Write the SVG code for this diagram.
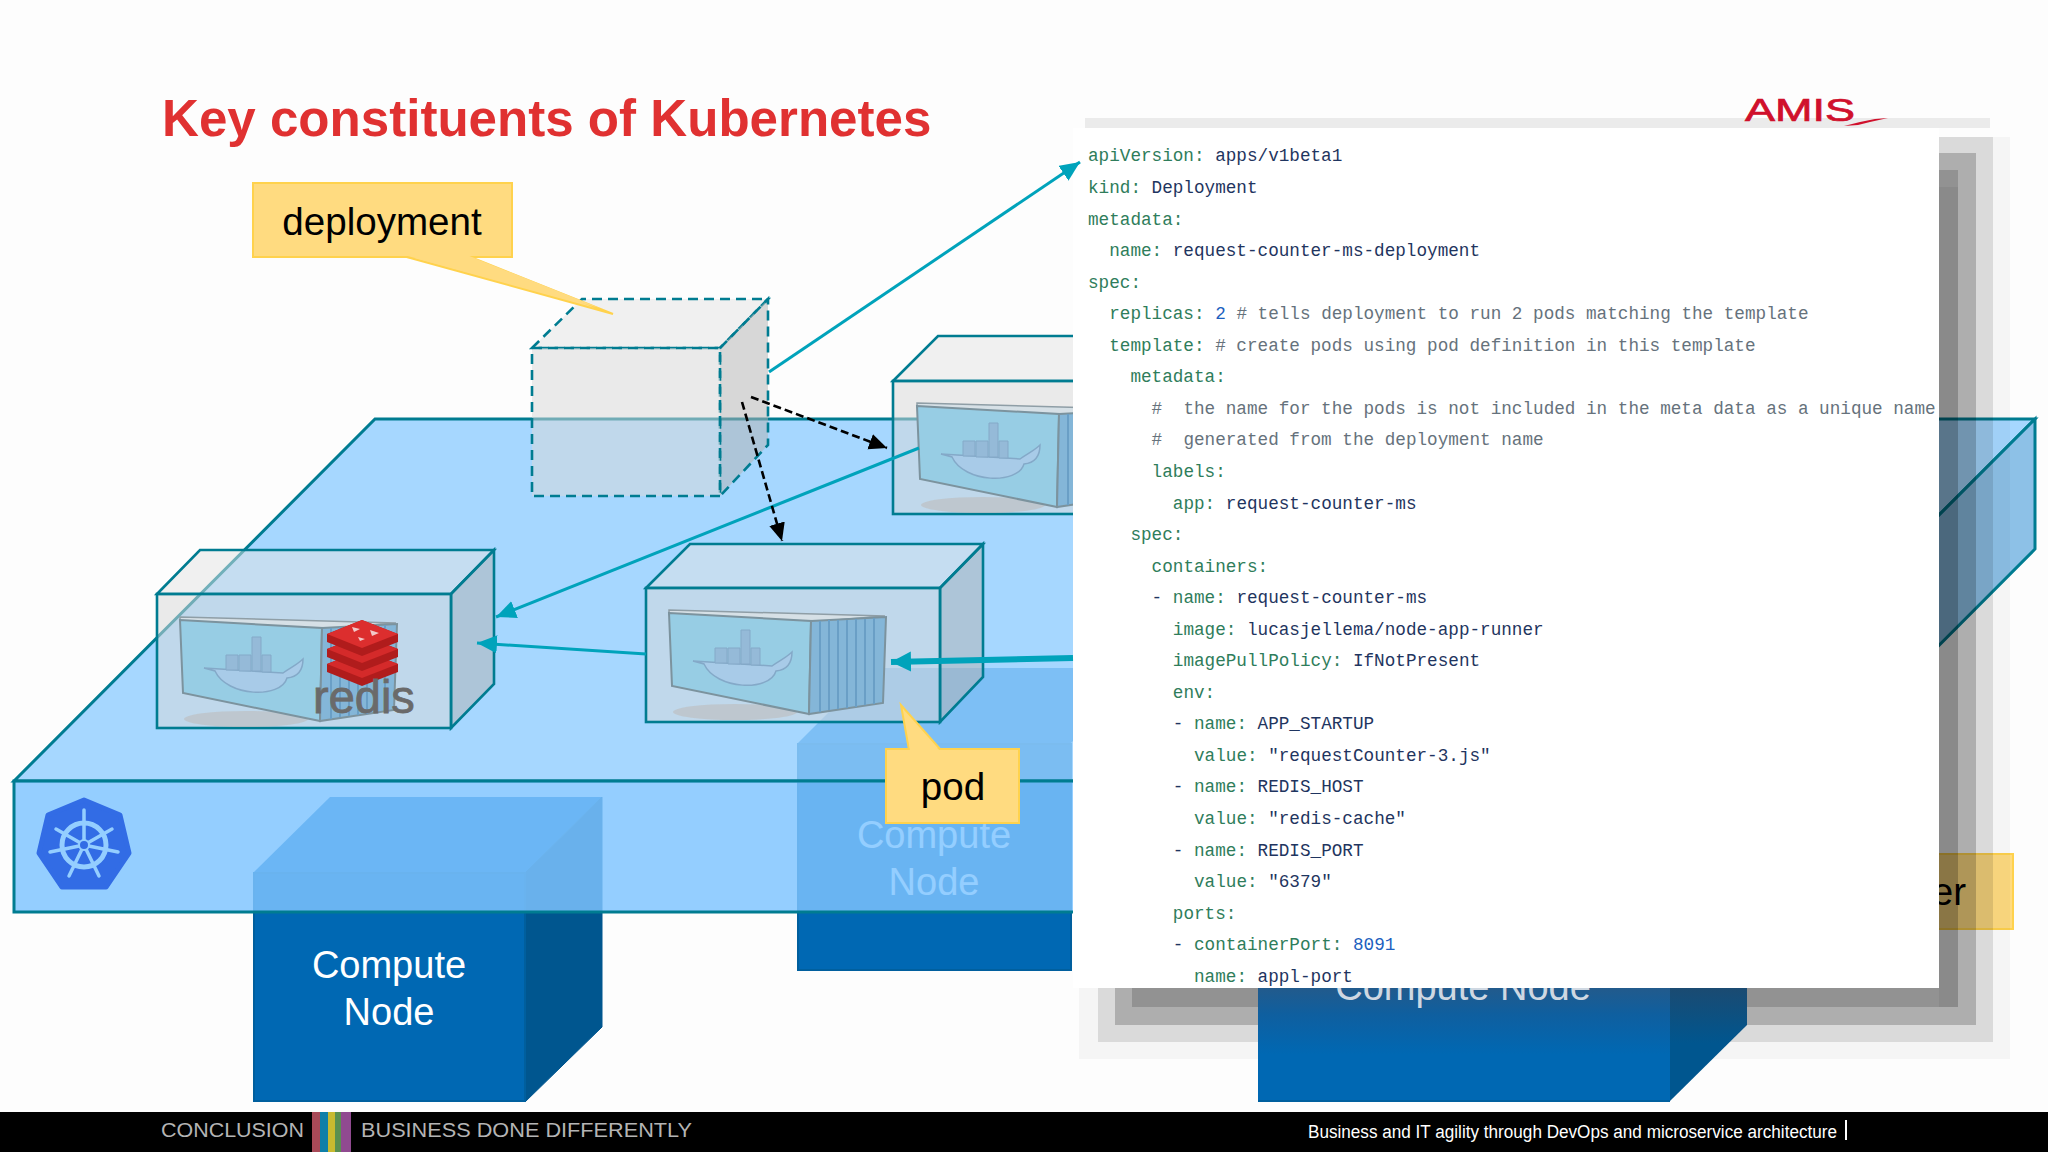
<svg xmlns="http://www.w3.org/2000/svg" xmlns:xlink="http://www.w3.org/1999/xlink" width="2048" height="1152" viewBox="0 0 2048 1152">
<style>
text{font-family:"Liberation Sans",Arial,sans-serif}
.call{fill:#ffdb80;stroke:#ffd24d;stroke-width:2}
.lab{font-size:38.6px;fill:#000;text-anchor:middle}
.cn{font-size:38px;fill:#fff;text-anchor:middle}
.cf{fill:#0068b3;stroke:#005f9e;stroke-width:2}
.cs{fill:#00568f;stroke:#00568f}
.pf{fill:#d9d9d9;fill-opacity:.52;stroke:#007c91;stroke-width:2.6}
.ps{fill:#b4b4b4;fill-opacity:.52;stroke:#007c91;stroke-width:2.6}
.pt{fill:#e4e4e4;fill-opacity:.5;stroke:#007c91;stroke-width:2.6}
.dash{stroke-dasharray:10 6}
.plat{stroke:#007c91;stroke-width:3}
.teal{stroke:#00a3bb;stroke-width:3;fill:none}
.blk{stroke:#000;stroke-width:2.6;stroke-dasharray:8 4;fill:none}
.y{font-family:"Liberation Mono","DejaVu Sans Mono",monospace;font-size:17.67px;white-space:pre;fill:#1f3560}
.k{fill:#2f7d5b}.c{fill:#66727c}.n{fill:#1d5fc0}
.sh{fill:#000}
.foot{fill:#b4b4b4;font-family:"Liberation Sans",Arial,sans-serif;font-size:20px}
</style>
<defs>
<marker id="ta" markerUnits="userSpaceOnUse" markerWidth="22" markerHeight="20" refX="20" refY="9" orient="auto"><path d="M0,0 L20,9 L0,18 Z" fill="#00a3bb"/></marker>
<marker id="tb" markerUnits="userSpaceOnUse" markerWidth="22" markerHeight="22" refX="20" refY="10" orient="auto"><path d="M0,0 L20,10 L0,20 Z" fill="#00a3bb"/></marker>
<marker id="ka" markerUnits="userSpaceOnUse" markerWidth="20" markerHeight="18" refX="18" refY="8" orient="auto"><path d="M0,0 L18,8 L0,16 Z" fill="#000"/></marker>
<clipPath id="pc"><rect x="1073" y="128" width="866" height="860"/></clipPath>
<linearGradient id="nf" x1="0" y1="0" x2="0" y2="1"><stop offset="0" stop-color="#245a8a"/><stop offset=".25" stop-color="#0f5f9f"/><stop offset=".6" stop-color="#0068b3"/></linearGradient>
<linearGradient id="ns" x1="0" y1="0" x2="0" y2="1"><stop offset="0" stop-color="#1c4a70"/><stop offset=".5" stop-color="#00568f"/></linearGradient>
<g id="box">
<ellipse cx="735" cy="712" rx="62" ry="8" fill="#bdbdbd" opacity=".6"/>
<polygon points="669,610 885,616 811,622 669,614" fill="#d6e0e6" stroke="#8f9ea6" stroke-width="1.5"/>
<polygon points="669,613 811,621 809,714 672,686" fill="#97cde4" stroke="#7c939e" stroke-width="2"/>
<polygon points="811,621 886,617 883,703 809,714" fill="#84b6d8" stroke="#7c939e" stroke-width="2"/>
<path d="M820,621V712M829,620V710M838,620V709M847,620V708M856,619V707M865,619V705M874,618V704" stroke="#6a9fc6" stroke-width="2" fill="none"/>
<path d="M693,661 L772,666 C780,660 786,658 792,652 C792,664 786,670 776,671 C770,692 716,690 704,664 Z" fill="#a8cbe8" stroke="#84a9c8" stroke-width="1.5"/>
<path d="M715,648h12v15h-12zM728,648h12v16h-12zM741,630h9v34h-9zM751,648h9v17h-9z" fill="#95bad8" stroke="#84a9c8"/>
</g>
</defs>
<rect width="2048" height="1152" fill="#fdfdfd"/>

<g id="title"><text x="162" y="136" font-size="51.1" font-weight="700" fill="#e03131">Key constituents of Kubernetes</text></g>

<g id="node1">
<polygon points="253,873 330,797 602,797 525,873" fill="#0e74c2"/>
<polygon points="525,873 602,797 602,1027 525,1102" class="cs"/>
<rect x="254" y="873" width="271" height="228" class="cf"/>
<text class="cn" x="389" y="978">Compute</text><text class="cn" x="389" y="1025">Node</text>
</g>
<g id="node2">
<polygon points="797,744 873,668 1145,668 1070,744" fill="#0e74c2"/>
<rect x="798" y="744" width="273" height="226" class="cf"/>
<text class="cn" x="934" y="848">Compute</text><text class="cn" x="934" y="895">Node</text>
</g>
<g id="callout-right">
<rect x="1830" y="854" width="183" height="75" class="call"/>
<text class="lab" x="1966" y="905" style="text-anchor:end">er</text>
</g>

<g id="platform">
<polygon class="plat" points="14,781 375,419 2035,419 1673,781" fill="#94cfff" fill-opacity=".83"/>
<polygon class="plat" points="1673,781 2035,419 2035,549 1673,912" fill="#76b4e2" fill-opacity=".83"/>
<rect class="plat" x="14" y="781" width="1659" height="131" fill="#7ec4ff" fill-opacity=".83"/>
<g id="k8s-logo">
<polygon points="84,800 120,815 129,853 106,887 62,887 39,853 48,815" fill="#326ce5" stroke="#326ce5" stroke-width="5" stroke-linejoin="round"/>
<g stroke="#94ceff" fill="none">
<circle cx="84" cy="845" r="22" stroke-width="5"/>
<path stroke-width="3.5" stroke-linecap="round" d="M84,845V810M84,845L112,829M84,845L118,852M84,845L99,876M84,845L69,876M84,845L50,852M84,845L56,829"/>
</g>
<circle cx="84" cy="845" r="5" fill="#326ce5" stroke="#94ceff" stroke-width="2"/>
</g>
</g>

<g id="pod-top">
<polygon class="pt" points="893,381 938,336 1100,336 1100,381"/>
<rect class="pf" x="893" y="381" width="220" height="133"/>
<use xlink:href="#box" href="#box" transform="translate(248,-207)"/>
</g>
<g id="deployment-cube">
<polygon class="pt dash" points="532,348 582,299 768,299 720,348"/>
<polygon class="ps dash" points="720,348 768,299 768,445 720,496"/>
<rect class="pf dash" x="532" y="348" width="188" height="148"/>
</g>
<g id="pod-redis">
<polygon class="pt" points="157,594 200,550 494,550 451,594"/>
<polygon class="ps" points="451,594 494,550 494,684 451,728"/>
<rect class="pf" x="157" y="594" width="294" height="134"/>
<use xlink:href="#box" href="#box" transform="translate(-489,7)"/>
<g id="redis-logo">
<polygon points="327,664 362,650 398,664 398,672 362,686 327,672" fill="#b01c1c"/><polygon points="327,664 362,650 398,664 362,678" fill="#d42a2a"/>
<polygon points="327,649 362,635 398,649 398,657 362,671 327,657" fill="#b01c1c"/><polygon points="327,649 362,635 398,649 362,663" fill="#d42a2a"/>
<polygon points="327,634 362,620 398,634 398,642 362,656 327,642" fill="#b01c1c"/><polygon points="327,634 362,620 398,634 362,648" fill="#dc2e2e"/>
<path d="M352,627l8,2-6,3zM370,630l9,3-7,3zM358,637l7,2-5,2z" fill="#f2c9c9"/>
<text x="313" y="713" font-size="47" fill="#6a6a6a" stroke="#6a6a6a" stroke-width=".8">redis</text>
</g>
</g>
<g id="pod-middle">
<polygon class="pt" points="646,588 690,544 983,544 940,588"/>
<polygon class="ps" points="940,588 983,544 983,677 940,722"/>
<rect class="pf" x="646" y="588" width="294" height="134"/>
<use xlink:href="#box" href="#box"/>
</g>

<g id="shadow">
<rect class="sh" x="1085" y="118" width="905" height="10" opacity=".07"/>
<rect class="sh" x="1079" y="137" width="931" height="922" opacity=".03"/>
<rect class="sh" x="1098" y="137" width="895" height="905" opacity=".11"/>
<rect class="sh" x="1115" y="153" width="861" height="872" opacity=".2"/>
<rect class="sh" x="1132" y="170" width="826" height="837" opacity=".16"/>
<rect class="sh" x="1939" y="187" width="19" height="820" opacity=".05"/>
</g>

<g id="node3">
<polygon points="1670,985 1747,985 1747,1025 1670,1101" fill="url(#ns)"/>
<rect x="1258" y="985" width="412" height="116" fill="url(#nf)"/>
<path d="M1258,1101H1670" stroke="#005f9e" stroke-width="2"/>
<text class="cn" x="1463" y="1000" style="fill:#cfd8e2">Compute Node</text>
</g>

<g id="yaml-panel">
<rect x="1073" y="128" width="866" height="860" fill="#fff"/>
<g clip-path="url(#pc)">
<text class="y" x="1088" y="161.4"><tspan class="k">apiVersion:</tspan> apps/v1beta1</text>
<text class="y" x="1088" y="193"><tspan class="k">kind:</tspan> Deployment</text>
<text class="y k" x="1088" y="224.5">metadata:</text>
<text class="y" x="1109.2" y="256"><tspan class="k">name:</tspan> request-counter-ms-deployment</text>
<text class="y k" x="1088" y="287.6">spec:</text>
<text class="y" x="1109.2" y="319.2"><tspan class="k">replicas:</tspan> <tspan class="n">2</tspan> <tspan class="c"># tells deployment to run 2 pods matching the template</tspan></text>
<text class="y" x="1109.2" y="350.7"><tspan class="k">template:</tspan> <tspan class="c"># create pods using pod definition in this template</tspan></text>
<text class="y k" x="1130.4" y="382.3">metadata:</text>
<text class="y c" x="1151.6" y="413.8">#  the name for the pods is not included in the meta data as a unique name</text>
<text class="y c" x="1151.6" y="445.4">#  generated from the deployment name</text>
<text class="y k" x="1151.6" y="476.9">labels:</text>
<text class="y" x="1172.8" y="508.5"><tspan class="k">app:</tspan> request-counter-ms</text>
<text class="y k" x="1130.4" y="540">spec:</text>
<text class="y k" x="1151.6" y="571.6">containers:</text>
<text class="y" x="1151.6" y="603.1">- <tspan class="k">name:</tspan> request-counter-ms</text>
<text class="y" x="1172.8" y="634.7"><tspan class="k">image:</tspan> lucasjellema/node-app-runner</text>
<text class="y" x="1172.8" y="666.2"><tspan class="k">imagePullPolicy:</tspan> IfNotPresent</text>
<text class="y k" x="1172.8" y="697.8">env:</text>
<text class="y" x="1172.8" y="729.3">- <tspan class="k">name:</tspan> APP_STARTUP</text>
<text class="y" x="1194" y="760.9"><tspan class="k">value:</tspan> "requestCounter-3.js"</text>
<text class="y" x="1172.8" y="792.4">- <tspan class="k">name:</tspan> REDIS_HOST</text>
<text class="y" x="1194" y="824"><tspan class="k">value:</tspan> "redis-cache"</text>
<text class="y" x="1172.8" y="855.5">- <tspan class="k">name:</tspan> REDIS_PORT</text>
<text class="y" x="1194" y="887.1"><tspan class="k">value:</tspan> "6379"</text>
<text class="y k" x="1172.8" y="918.6">ports:</text>
<text class="y" x="1172.8" y="950.2">- <tspan class="k">containerPort:</tspan> <tspan class="n">8091</tspan></text>
<text class="y" x="1194" y="981.7"><tspan class="k">name:</tspan> appl-port</text>
</g>
</g>

<g id="connectors">
<path class="teal" d="M769,372 L1080,162" marker-end="url(#ta)"/>
<path class="teal" d="M919,448 L496,617" marker-end="url(#ta)"/>
<path class="teal" d="M646,654 L477,643" marker-end="url(#ta)"/>
<path class="teal" style="stroke-width:6" d="M1073,658 L891,662" marker-end="url(#tb)"/>
<path class="blk" d="M751,397 L887,448" marker-end="url(#ka)"/>
<path class="blk" d="M742,402 L782,541" marker-end="url(#ka)"/>
</g>

<g id="callout-deployment">
<polygon points="403,256 468,256 613,314" fill="#ffdb80" stroke="#ffd24d" stroke-width="2"/>
<rect x="253" y="183" width="259" height="74" class="call"/>
<polygon points="404,255 467,255 600,308" fill="#ffdb80"/>
<text class="lab" x="382" y="235">deployment</text>
</g>
<g id="callout-pod">
<polygon points="909,750 941,750 901,705" fill="#ffdb80" stroke="#ffd24d" stroke-width="2"/>
<rect x="886" y="749" width="133" height="74" class="call"/>
<polygon points="910,751 940,751 906,714" fill="#ffdb80"/>
<text class="lab" x="953" y="800">pod</text>
</g>

<g id="logo">
<text x="1745" y="121" font-size="32" fill="#d0102c" stroke="#d0102c" stroke-width=".7" textLength="110" lengthAdjust="spacingAndGlyphs">AMIS</text>
<path d="M1844,126 L1860,122 L1875,119 L1888,118 L1870,122 L1858,125 Z" fill="#d0102c"/>
</g>

<g id="footer">
<rect x="0" y="1112" width="2048" height="40" fill="#000"/>
<rect x="312" y="1112" width="8" height="40" fill="#a84a58"/>
<rect x="320" y="1112" width="8" height="40" fill="#0f7fa8"/>
<rect x="328" y="1112" width="7" height="40" fill="#c8ba30"/>
<rect x="335" y="1112" width="6" height="40" fill="#5a9050"/>
<rect x="341" y="1112" width="10" height="40" fill="#904a90"/>
<text class="foot" x="161" y="1137" textLength="143" lengthAdjust="spacingAndGlyphs">CONCLUSION</text>
<text class="foot" x="361" y="1137" textLength="331" lengthAdjust="spacingAndGlyphs">BUSINESS DONE DIFFERENTLY</text>
<text x="1308" y="1138" font-size="18" fill="#fff" textLength="529" lengthAdjust="spacingAndGlyphs">Business and IT agility through DevOps and microservice architecture</text>
<rect x="1845" y="1120" width="2" height="20" fill="#fff"/>
</g>
</svg>
